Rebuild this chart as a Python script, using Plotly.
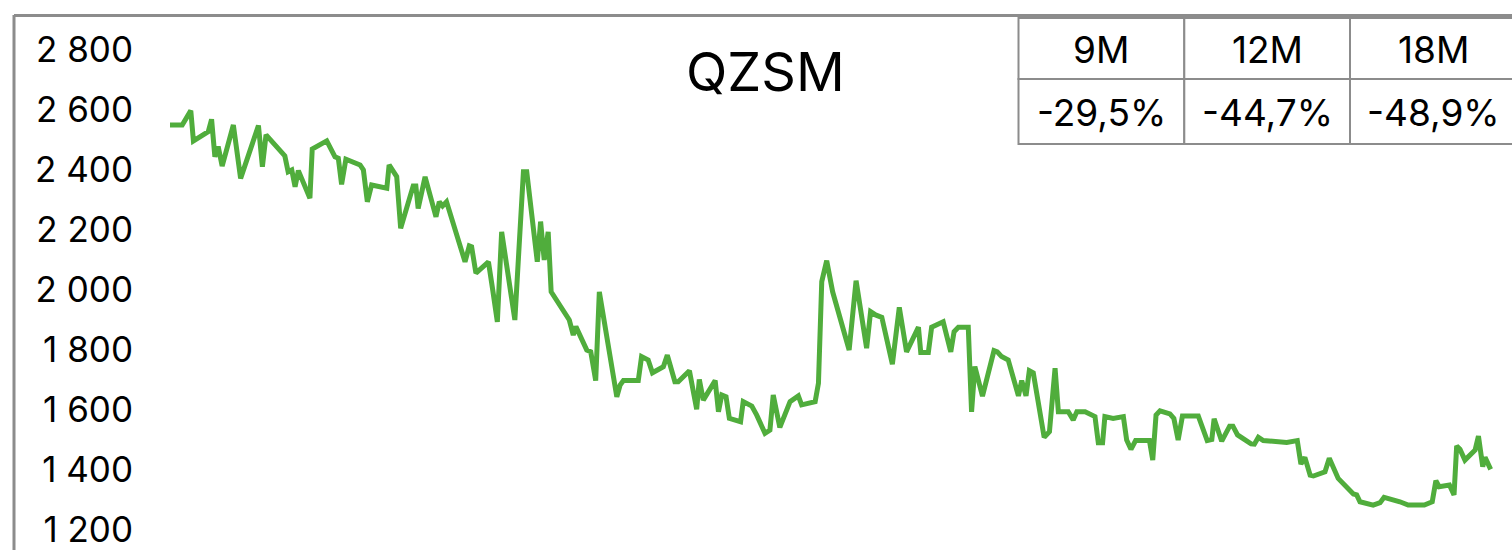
import plotly.graph_objects as go

# ---- data ----
title = "QZSM"
days = [0, 3.7, 6.3, 7.1, 11.6, 12.6, 13.6, 14.6, 15.8, 19.2, 21.4, 26.8, 28.0, 29.1, 34.8, 35.8, 36.9, 37.9,
        38.9, 42.4, 43.1, 47.5, 50.0, 51.0, 52.0, 53.3, 57.6, 58.6, 59.8, 61.1, 65.7, 66.4, 68.7, 69.9, 73.7,
        74.5, 75.2, 77.3, 80.6, 81.6, 82.6, 83.8, 89.4, 90.7, 91.4, 92.7, 96.0, 96.5, 97.8, 99.2, 100.5, 104.5,
        107.1, 108.1, 111.3, 112.3, 113.4, 114.6, 115.5, 121.0, 122.2, 123.0, 126.3, 127.5, 129.0, 130.1, 135.4,
        136.4, 137.4, 141.9, 142.9, 144.9, 146.2, 149.5, 150.7, 153.0, 154.0, 157.4, 159.6, 160.4, 161.6, 165.2,
        166.2, 167.2, 168.5, 169.5, 172.9, 173.7, 176.3, 177.8, 180.3, 181.8, 182.8, 184.8, 187.9, 190.4, 191.4,
        195.5, 196.5, 197.5, 199.0, 200.8, 205.8, 207.9, 211.1, 212.3, 213.8, 215.7, 218.9, 221.0, 223.2, 226.8,
        227.5, 229.8, 230.8, 234.3, 236.6, 237.6, 238.9, 241.9, 242.9, 243.9, 246.2, 249.7, 250.7, 252.0, 254.0,
        257.1, 258.1, 259.4, 260.4, 261.6, 264.9, 266.5, 268.2, 269.2, 272.2, 273.7, 274.8, 277.3, 280.3, 281.3,
        282.6, 283.3, 285.8, 288.9, 289.9, 291.2, 292.6, 296.8, 297.8, 298.8, 300.0, 303.0, 304.2, 305.5, 306.8,
        311.6, 314.3, 315.7, 316.4, 318.7, 321.1, 322.1, 323.5, 327.6, 328.6, 329.8, 331.3, 338.4, 341.6, 342.7,
        343.9, 345.5, 346.5, 350.0, 351.3, 354.0, 358.6, 359.6, 360.6, 364.6, 366.7, 367.9, 372.7, 373.7, 375.2,
        380.1, 381.8, 382.5, 383.6, 384.6, 387.7, 389.1, 389.9, 390.9, 392.4, 395.5, 396.5, 397.8, 398.5, 400.2]
prices = [2550, 2550, 2598, 2497, 2528, 2569, 2444, 2478, 2413, 2550, 2372, 2548, 2411, 2517, 2447, 2394, 2400, 2344,
          2398, 2306, 2470, 2497, 2444, 2439, 2352, 2436, 2417, 2400, 2294, 2350, 2339, 2417, 2378, 2206, 2347,
          2347, 2272, 2377, 2244, 2294, 2280, 2294, 2094, 2147, 2144, 2056, 2089, 2094, 2000, 1894, 2194, 1900,
          2394, 2394, 2094, 2228, 2100, 2194, 1994, 1900, 1850, 1878, 1800, 1794, 1698, 1994, 1644,
          1683, 1698, 1698, 1778, 1767, 1724, 1744, 1783, 1694, 1694, 1731, 1602, 1702, 1633, 1698,
          1594, 1650, 1644, 1572, 1561, 1628, 1613, 1583, 1522, 1533, 1650, 1542, 1628, 1647, 1617,
          1628, 1689, 2028, 2098, 1994, 1800, 2031, 1806, 1928, 1917, 1909, 1753, 1942, 1794, 1876,
          1792, 1792, 1876, 1894, 1794, 1861, 1876, 1876, 1594, 1745, 1646, 1798, 1794, 1778, 1767,
          1647, 1698, 1647, 1731, 1724, 1509, 1528, 1739, 1594, 1594, 1567, 1594, 1594, 1578, 1491,
          1491, 1578, 1572, 1578, 1500, 1469, 1498, 1498, 1433, 1583, 1597, 1587, 1572, 1500, 1580,
          1580, 1498, 1502, 1571, 1496, 1546, 1546, 1517, 1487, 1486, 1509, 1498, 1492, 1498, 1420,
          1442, 1383, 1380, 1394, 1439, 1372, 1320, 1317, 1294, 1283, 1291, 1309, 1294, 1291, 1283,
          1283, 1294, 1294, 1364, 1344, 1350, 1317, 1480, 1469, 1433, 1467, 1513, 1411, 1442, 1402]
y_ticks = [1200, 1400, 1600, 1800, 2000, 2200, 2400, 2600, 2800]
table_headers = ["9M", "12M", "18M"]
table_values = ["-29,5%", "-44,7%", "-48,9%"]

# ---- layout geometry (pixels) ----
W, H = 1512, 550
L = 140
PW = W - L
FONT = "Inter"
GRAY = "#8c8c8c"
GREEN = "#50ad3c"


def px(x):
    return (x - L) / PW


def py(y):
    return (H - y) / H


fig = go.Figure()
fig.add_trace(go.Scatter(x=days, y=prices, mode="lines",
                         line=dict(color=GREEN, width=5), hoverinfo="skip", showlegend=False))

shapes = [
    # chart frame
    dict(type="line", xref="paper", yref="paper", x0=px(14), x1=px(1515), y0=py(15.5), y1=py(15.5),
         line=dict(color=GRAY, width=3)),
    dict(type="line", xref="paper", yref="paper", x0=px(14), x1=px(14), y0=py(15), y1=py(560),
         line=dict(color=GRAY, width=3)),
]
annotations = [
    dict(text=title, xref="paper", yref="paper", x=px(765), y=py(72), showarrow=False,
         xanchor="center", yanchor="middle", font=dict(family=FONT, size=54, color="black")),
]

col_edges = [1018.5, 1184.3, 1350.0, 1516.0]
row_edges = [18.0, 79.0, 144.0]
for i in range(len(table_headers)):
    for r in range(2):
        shapes.append(dict(type="rect", xref="paper", yref="paper",
                           x0=px(col_edges[i]), x1=px(col_edges[i + 1]),
                           y0=py(row_edges[r + 1]), y1=py(row_edges[r]),
                           line=dict(color=GRAY, width=2), fillcolor="white"))
    cx = (col_edges[i] + col_edges[i + 1]) / 2
    annotations.append(dict(text=table_headers[i], xref="paper", yref="paper", x=px(cx),
                            y=py((row_edges[0] + row_edges[1]) / 2 + 1), showarrow=False,
                            xanchor="center", yanchor="middle",
                            font=dict(family=FONT, size=37, color="black")))
    annotations.append(dict(text=table_values[i], xref="paper", yref="paper", x=px(cx),
                            y=py((row_edges[1] + row_edges[2]) / 2 + 1), showarrow=False,
                            xanchor="center", yanchor="middle",
                            font=dict(family=FONT, size=37, color="black")))

x_per_px = 1 / 3.3
fig.update_layout(
    width=W, height=H,
    margin=dict(l=L, r=0, t=0, b=0),
    paper_bgcolor="white", plot_bgcolor="white",
    separators=", ",
    shapes=shapes, annotations=annotations,
    xaxis=dict(range=[(L - 170) * x_per_px, (W - 170) * x_per_px], showgrid=False, zeroline=False,
               showticklabels=False, showline=False, ticks=""),
    yaxis=dict(range=[2800 - (H - 50) / 0.3, 2800 + 50 / 0.3], showgrid=False, zeroline=False,
               showline=False, ticks="", tickvals=y_ticks, tickformat=",d",
               ticklabelstandoff=6, ticklabeloverflow="allow",
               tickfont=dict(family=FONT, size=35, color="black")),
)

fig.write_html("out.html", config={"displayModeBar": False},
               post_script="document.body.style.margin='0';document.body.style.padding='0';")
